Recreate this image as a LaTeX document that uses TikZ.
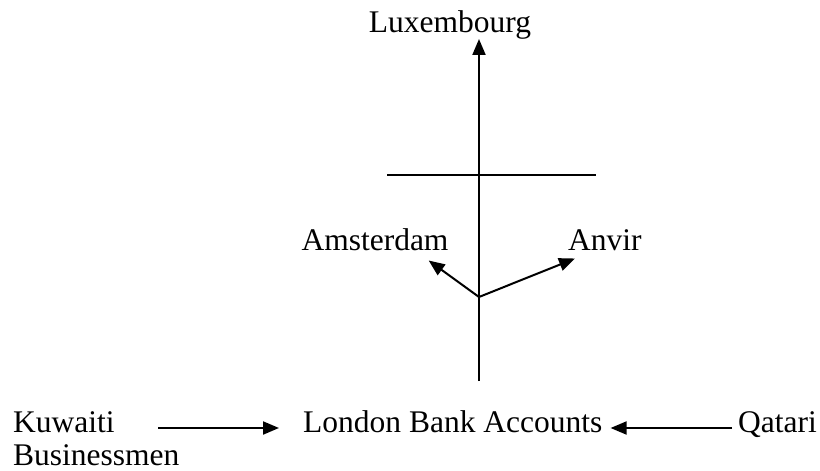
\documentclass[tikz,border=0pt]{standalone}
\usepackage{fontspec}
\setmainfont{Liberation Serif}
\usepackage{tikz}
\usetikzlibrary{arrows.meta}
\tikzset{place/.style={inner sep=0pt,font=\fontsize{31.5}{33}\selectfont},
    flow/.style={line width=2pt,-{Triangle[length=16pt,width=13pt]}},
    bar/.style={line width=2pt}}

\begin{document}
\begin{tikzpicture}[x=1pt,y=-1pt]
    \useasboundingbox (0,0) rectangle (820,471);
    \node[place,anchor=base] (lux) at (450,32) {Luxembourg};
    \node[place,anchor=base] (ams) at (375,250) {Amsterdam};
    \node[place,anchor=base west] (anv) at (568,250) {Anvir};
    \node[place,anchor=base west] (lon) at (303,432) {London Bank Accounts};
    \node[place,anchor=base west] (qat) at (738,432) {Qatari};
    \node[place,anchor=north west,align=left] (kuw) at (13,411.5) {Kuwaiti\\Businessmen};
    \coordinate (foot) at (479,381);
    \coordinate (fork) at (479,297);
    \coordinate (barL) at (387,175);
    \coordinate (barR) at (596,175);
    \coordinate (kwStart) at (158,428);
    \draw[flow] (foot) -- (foot |- lux.south);
    \draw[bar] (barL) -- (barR);
    \draw[flow] (fork) -- ([shift={(-20,10)}]ams.south east);
    \draw[flow] (fork) -- ([shift={(7,8)}]anv.south west);
    \draw[flow,shorten >=24pt] (kwStart) -- (kwStart -| lon.west);
    \draw[flow,shorten <=6pt,shorten >=8pt] (kwStart -| qat.west) -- (kwStart -| lon.east);
\end{tikzpicture}
\end{document}
